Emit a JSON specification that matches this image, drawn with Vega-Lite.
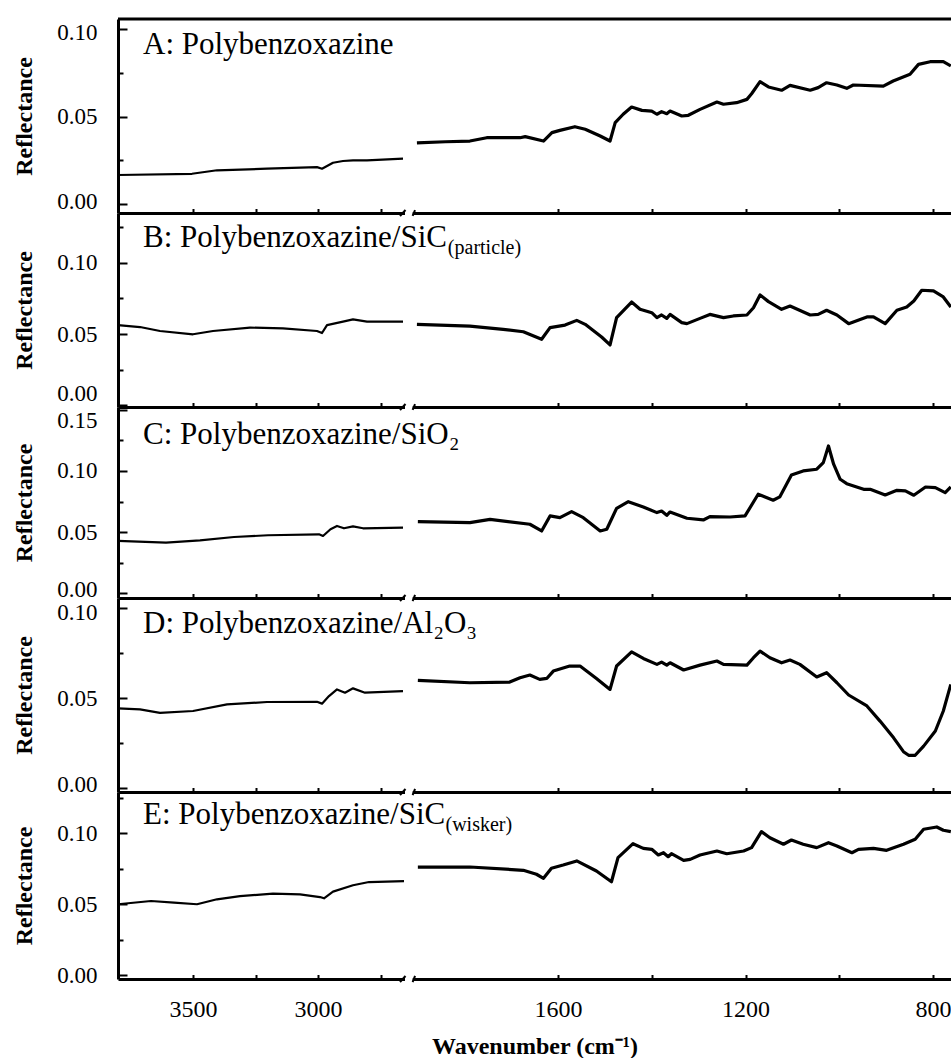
{
"$schema": "https://vega.github.io/schema/vega-lite/v6.json",
"padding": {"left": 12, "top": 17, "right": 0, "bottom": 2},
"spacing": 0,
"bounds": "flush",
"config": {
  "view": {"stroke": null},
  "axis": {"domainColor": "black", "domainWidth": 3, "tickColor": "black", "tickWidth": 2, "labelColor": "black", "titleColor": "black", "grid": false, "labelFont": "Liberation Serif", "titleFont": "Liberation Serif"},
  "text": {"font": "Liberation Serif", "color": "black"}
},
"datasets": {
  "A": [
    {"w":3800,"r":0.0166,"s":"L"},{"w":3504,"r":0.0173,"s":"L"},{"w":3404,"r":0.0193,"s":"L"},{"w":3204,"r":0.0202,"s":"L"},{"w":3004,"r":0.0211,"s":"L"},{"w":2984,"r":0.0202,"s":"L"},{"w":2940,"r":0.0236,"s":"L"},{"w":2900,"r":0.0246,"s":"L"},{"w":2860,"r":0.025,"s":"L"},{"w":2804,"r":0.025,"s":"L"},{"w":2660,"r":0.0259,"s":"L"},
    {"w":1901,"r":0.035,"s":"R"},{"w":1840,"r":0.0356,"s":"R"},{"w":1788,"r":0.036,"s":"R"},{"w":1752,"r":0.0379,"s":"R"},{"w":1681,"r":0.0379,"s":"R"},{"w":1670,"r":0.0385,"s":"R"},{"w":1631,"r":0.036,"s":"R"},{"w":1613,"r":0.0408,"s":"R"},{"w":1596,"r":0.0421,"s":"R"},{"w":1564,"r":0.0442,"s":"R"},{"w":1542,"r":0.0427,"s":"R"},{"w":1510,"r":0.0389,"s":"R"},{"w":1489,"r":0.036,"s":"R"},{"w":1478,"r":0.0465,"s":"R"},{"w":1461,"r":0.0513,"s":"R"},{"w":1443,"r":0.0554,"s":"R"},{"w":1421,"r":0.0535,"s":"R"},{"w":1400,"r":0.0531,"s":"R"},{"w":1389,"r":0.0513,"s":"R"},{"w":1379,"r":0.0528,"s":"R"},{"w":1368,"r":0.0516,"s":"R"},{"w":1361,"r":0.0531,"s":"R"},{"w":1336,"r":0.0503,"s":"R"},{"w":1322,"r":0.0507,"s":"R"},{"w":1297,"r":0.0541,"s":"R"},{"w":1261,"r":0.0583,"s":"R"},{"w":1247,"r":0.057,"s":"R"},{"w":1219,"r":0.0579,"s":"R"},{"w":1197,"r":0.0598,"s":"R"},{"w":1187,"r":0.063,"s":"R"},{"w":1169,"r":0.0699,"s":"R"},{"w":1151,"r":0.0669,"s":"R"},{"w":1123,"r":0.065,"s":"R"},{"w":1105,"r":0.0678,"s":"R"},{"w":1062,"r":0.065,"s":"R"},{"w":1045,"r":0.0665,"s":"R"},{"w":1027,"r":0.0693,"s":"R"},{"w":1005,"r":0.068,"s":"R"},{"w":984,"r":0.0661,"s":"R"},{"w":970,"r":0.068,"s":"R"},{"w":906,"r":0.0674,"s":"R"},{"w":885,"r":0.0703,"s":"R"},{"w":849,"r":0.0741,"s":"R"},{"w":831,"r":0.0798,"s":"R"},{"w":806,"r":0.0813,"s":"R"},{"w":778,"r":0.0813,"s":"R"},{"w":762,"r":0.0789,"s":"R"}
  ],
  "B": [
    {"w":3800,"r":0.0563,"s":"L"},{"w":3712,"r":0.0549,"s":"L"},{"w":3632,"r":0.0521,"s":"L"},{"w":3500,"r":0.0498,"s":"L"},{"w":3420,"r":0.0521,"s":"L"},{"w":3272,"r":0.0545,"s":"L"},{"w":3140,"r":0.054,"s":"L"},{"w":3004,"r":0.0521,"s":"L"},{"w":2984,"r":0.0507,"s":"L"},{"w":2964,"r":0.0563,"s":"L"},{"w":2900,"r":0.0587,"s":"L"},{"w":2860,"r":0.0603,"s":"L"},{"w":2804,"r":0.0587,"s":"L"},{"w":2660,"r":0.0587,"s":"L"},
    {"w":1901,"r":0.0568,"s":"R"},{"w":1788,"r":0.0556,"s":"R"},{"w":1717,"r":0.0533,"s":"R"},{"w":1674,"r":0.0516,"s":"R"},{"w":1635,"r":0.0463,"s":"R"},{"w":1617,"r":0.0545,"s":"R"},{"w":1585,"r":0.0563,"s":"R"},{"w":1560,"r":0.0596,"s":"R"},{"w":1542,"r":0.0568,"s":"R"},{"w":1507,"r":0.0479,"s":"R"},{"w":1489,"r":0.0423,"s":"R"},{"w":1475,"r":0.0615,"s":"R"},{"w":1443,"r":0.0725,"s":"R"},{"w":1425,"r":0.0674,"s":"R"},{"w":1400,"r":0.065,"s":"R"},{"w":1389,"r":0.0615,"s":"R"},{"w":1379,"r":0.0634,"s":"R"},{"w":1368,"r":0.061,"s":"R"},{"w":1361,"r":0.0638,"s":"R"},{"w":1336,"r":0.058,"s":"R"},{"w":1325,"r":0.0573,"s":"R"},{"w":1297,"r":0.061,"s":"R"},{"w":1276,"r":0.0638,"s":"R"},{"w":1247,"r":0.0615,"s":"R"},{"w":1226,"r":0.0627,"s":"R"},{"w":1197,"r":0.0634,"s":"R"},{"w":1183,"r":0.0685,"s":"R"},{"w":1169,"r":0.0775,"s":"R"},{"w":1151,"r":0.0728,"s":"R"},{"w":1123,"r":0.0674,"s":"R"},{"w":1105,"r":0.0697,"s":"R"},{"w":1062,"r":0.0634,"s":"R"},{"w":1045,"r":0.0638,"s":"R"},{"w":1027,"r":0.0667,"s":"R"},{"w":1005,"r":0.0634,"s":"R"},{"w":980,"r":0.0573,"s":"R"},{"w":941,"r":0.062,"s":"R"},{"w":927,"r":0.062,"s":"R"},{"w":902,"r":0.0573,"s":"R"},{"w":877,"r":0.0667,"s":"R"},{"w":856,"r":0.069,"s":"R"},{"w":841,"r":0.0732,"s":"R"},{"w":824,"r":0.0808,"s":"R"},{"w":799,"r":0.0803,"s":"R"},{"w":778,"r":0.0761,"s":"R"},{"w":762,"r":0.069,"s":"R"}
  ],
  "C": [
    {"w":3800,"r":0.0429,"s":"L"},{"w":3608,"r":0.0415,"s":"L"},{"w":3472,"r":0.0434,"s":"L"},{"w":3336,"r":0.0461,"s":"L"},{"w":3200,"r":0.0475,"s":"L"},{"w":2996,"r":0.0483,"s":"L"},{"w":2980,"r":0.0469,"s":"L"},{"w":2950,"r":0.0524,"s":"L"},{"w":2924,"r":0.0551,"s":"L"},{"w":2896,"r":0.0532,"s":"L"},{"w":2860,"r":0.0548,"s":"L"},{"w":2820,"r":0.0532,"s":"L"},{"w":2660,"r":0.0537,"s":"L"},
    {"w":1899,"r":0.0586,"s":"R"},{"w":1788,"r":0.0578,"s":"R"},{"w":1745,"r":0.0605,"s":"R"},{"w":1660,"r":0.0565,"s":"R"},{"w":1635,"r":0.051,"s":"R"},{"w":1617,"r":0.0633,"s":"R"},{"w":1596,"r":0.0619,"s":"R"},{"w":1571,"r":0.0668,"s":"R"},{"w":1546,"r":0.0619,"s":"R"},{"w":1510,"r":0.051,"s":"R"},{"w":1496,"r":0.0524,"s":"R"},{"w":1475,"r":0.0695,"s":"R"},{"w":1450,"r":0.0749,"s":"R"},{"w":1418,"r":0.0706,"s":"R"},{"w":1389,"r":0.066,"s":"R"},{"w":1379,"r":0.0673,"s":"R"},{"w":1368,"r":0.0638,"s":"R"},{"w":1361,"r":0.0665,"s":"R"},{"w":1325,"r":0.0614,"s":"R"},{"w":1290,"r":0.06,"s":"R"},{"w":1276,"r":0.0627,"s":"R"},{"w":1233,"r":0.0624,"s":"R"},{"w":1201,"r":0.0633,"s":"R"},{"w":1173,"r":0.081,"s":"R"},{"w":1141,"r":0.0761,"s":"R"},{"w":1127,"r":0.0788,"s":"R"},{"w":1102,"r":0.0967,"s":"R"},{"w":1077,"r":0.1,"s":"R"},{"w":1048,"r":0.1014,"s":"R"},{"w":1034,"r":0.1068,"s":"R"},{"w":1023,"r":0.1204,"s":"R"},{"w":1012,"r":0.1055,"s":"R"},{"w":998,"r":0.0932,"s":"R"},{"w":984,"r":0.0896,"s":"R"},{"w":948,"r":0.085,"s":"R"},{"w":934,"r":0.085,"s":"R"},{"w":902,"r":0.0804,"s":"R"},{"w":877,"r":0.0842,"s":"R"},{"w":859,"r":0.0837,"s":"R"},{"w":841,"r":0.0802,"s":"R"},{"w":816,"r":0.0869,"s":"R"},{"w":795,"r":0.0864,"s":"R"},{"w":774,"r":0.0823,"s":"R"},{"w":762,"r":0.0869,"s":"R"}
  ],
  "D": [
    {"w":3800,"r":0.0443,"s":"L"},{"w":3712,"r":0.0437,"s":"L"},{"w":3632,"r":0.0418,"s":"L"},{"w":3500,"r":0.0428,"s":"L"},{"w":3364,"r":0.0465,"s":"L"},{"w":3204,"r":0.0478,"s":"L"},{"w":3004,"r":0.0479,"s":"L"},{"w":2984,"r":0.0469,"s":"L"},{"w":2956,"r":0.0511,"s":"L"},{"w":2924,"r":0.0548,"s":"L"},{"w":2892,"r":0.053,"s":"L"},{"w":2860,"r":0.0554,"s":"L"},{"w":2812,"r":0.053,"s":"L"},{"w":2660,"r":0.0539,"s":"L"},
    {"w":1899,"r":0.0598,"s":"R"},{"w":1788,"r":0.0585,"s":"R"},{"w":1703,"r":0.0589,"s":"R"},{"w":1681,"r":0.0613,"s":"R"},{"w":1660,"r":0.0628,"s":"R"},{"w":1639,"r":0.0604,"s":"R"},{"w":1624,"r":0.0609,"s":"R"},{"w":1610,"r":0.065,"s":"R"},{"w":1575,"r":0.0678,"s":"R"},{"w":1553,"r":0.0678,"s":"R"},{"w":1518,"r":0.0609,"s":"R"},{"w":1489,"r":0.0548,"s":"R"},{"w":1475,"r":0.0678,"s":"R"},{"w":1443,"r":0.0757,"s":"R"},{"w":1418,"r":0.072,"s":"R"},{"w":1389,"r":0.0687,"s":"R"},{"w":1379,"r":0.07,"s":"R"},{"w":1368,"r":0.0683,"s":"R"},{"w":1361,"r":0.0696,"s":"R"},{"w":1332,"r":0.0656,"s":"R"},{"w":1297,"r":0.0683,"s":"R"},{"w":1261,"r":0.0706,"s":"R"},{"w":1247,"r":0.0687,"s":"R"},{"w":1197,"r":0.0683,"s":"R"},{"w":1183,"r":0.0724,"s":"R"},{"w":1169,"r":0.0761,"s":"R"},{"w":1148,"r":0.0724,"s":"R"},{"w":1123,"r":0.0696,"s":"R"},{"w":1105,"r":0.0711,"s":"R"},{"w":1084,"r":0.0687,"s":"R"},{"w":1048,"r":0.0617,"s":"R"},{"w":1027,"r":0.0641,"s":"R"},{"w":1005,"r":0.0585,"s":"R"},{"w":980,"r":0.0517,"s":"R"},{"w":941,"r":0.0456,"s":"R"},{"w":913,"r":0.0372,"s":"R"},{"w":884,"r":0.0279,"s":"R"},{"w":863,"r":0.0202,"s":"R"},{"w":852,"r":0.0182,"s":"R"},{"w":838,"r":0.0182,"s":"R"},{"w":820,"r":0.0233,"s":"R"},{"w":795,"r":0.0317,"s":"R"},{"w":778,"r":0.0428,"s":"R"},{"w":762,"r":0.0576,"s":"R"}
  ],
  "E": [
    {"w":3800,"r":0.05,"s":"L"},{"w":3668,"r":0.0523,"s":"L"},{"w":3576,"r":0.0511,"s":"L"},{"w":3484,"r":0.05,"s":"L"},{"w":3404,"r":0.0535,"s":"L"},{"w":3312,"r":0.0558,"s":"L"},{"w":3180,"r":0.0575,"s":"L"},{"w":3072,"r":0.057,"s":"L"},{"w":2992,"r":0.0551,"s":"L"},{"w":2976,"r":0.0542,"s":"L"},{"w":2940,"r":0.0589,"s":"L"},{"w":2860,"r":0.0634,"s":"L"},{"w":2796,"r":0.0657,"s":"L"},{"w":2656,"r":0.0664,"s":"L"},
    {"w":1899,"r":0.0763,"s":"R"},{"w":1788,"r":0.0763,"s":"R"},{"w":1674,"r":0.074,"s":"R"},{"w":1646,"r":0.0712,"s":"R"},{"w":1631,"r":0.0683,"s":"R"},{"w":1614,"r":0.0754,"s":"R"},{"w":1589,"r":0.0777,"s":"R"},{"w":1560,"r":0.0806,"s":"R"},{"w":1518,"r":0.0735,"s":"R"},{"w":1486,"r":0.0659,"s":"R"},{"w":1472,"r":0.0829,"s":"R"},{"w":1440,"r":0.0928,"s":"R"},{"w":1418,"r":0.0895,"s":"R"},{"w":1400,"r":0.0888,"s":"R"},{"w":1386,"r":0.0848,"s":"R"},{"w":1375,"r":0.0864,"s":"R"},{"w":1365,"r":0.0836,"s":"R"},{"w":1358,"r":0.0857,"s":"R"},{"w":1332,"r":0.081,"s":"R"},{"w":1318,"r":0.0817,"s":"R"},{"w":1297,"r":0.0848,"s":"R"},{"w":1261,"r":0.0876,"s":"R"},{"w":1240,"r":0.0857,"s":"R"},{"w":1204,"r":0.0876,"s":"R"},{"w":1187,"r":0.09,"s":"R"},{"w":1166,"r":0.1013,"s":"R"},{"w":1148,"r":0.097,"s":"R"},{"w":1119,"r":0.0924,"s":"R"},{"w":1102,"r":0.0954,"s":"R"},{"w":1077,"r":0.0924,"s":"R"},{"w":1048,"r":0.09,"s":"R"},{"w":1023,"r":0.0935,"s":"R"},{"w":1005,"r":0.0912,"s":"R"},{"w":973,"r":0.0864,"s":"R"},{"w":959,"r":0.0888,"s":"R"},{"w":927,"r":0.0895,"s":"R"},{"w":899,"r":0.0881,"s":"R"},{"w":863,"r":0.0924,"s":"R"},{"w":838,"r":0.0959,"s":"R"},{"w":820,"r":0.103,"s":"R"},{"w":792,"r":0.1046,"s":"R"},{"w":778,"r":0.1023,"s":"R"},{"w":762,"r":0.1013,"s":"R"}
  ]
},
"vconcat": [
{
  "width": 833, "height": 194,
  "resolve": {"axis": {"x": "independent", "y": "independent"}},
  "layer": [
    {"data": {"name": "A"}, "mark": {"type": "line", "color": "black", "strokeJoin": "round"},
     "encoding": {
       "x": {"field": "w", "type": "quantitative", "scale": {"type": "linear", "domain": [3800, 2650, 1910, 761.6], "range": [0, 287.5, 294.7, 833], "nice": false, "zero": false},
             "axis": {"orient": "bottom", "values": [3500, 3250, 3000, 2750, 1600, 1400, 1200, 1000, 800], "labels": false, "tickSize": -4.5, "title": null}},
       "y": {"field": "r", "type": "quantitative", "scale": {"domain": [-0.0051, 0.1057], "nice": false, "zero": false},
             "axis": {"orient": "left", "values": [0, 0.025, 0.05, 0.075, 0.1], "format": ".2f", "labelExpr": "abs(datum.value*20-round(datum.value*20))<0.01 ? datum.label : ''", "tickSize": {"condition": {"test": "abs(datum.value*20-round(datum.value*20))<0.01", "value": -9}, "value": -5}, "labelOffset": {"condition": [{"test": "datum.value > 0.09", "value": 4}, {"test": "datum.value < 0.01", "value": -3}], "value": 0}, "labelPadding": 30, "labelFontSize": 23, "labelFlush": false, "labelOverlap": false, "title": "Reflectance", "titleFontSize": 24, "titleFontWeight": "bold", "titlePadding": 20}},
       "strokeWidth": {"field": "s", "type": "nominal", "scale": {"domain": ["L", "R"], "range": [2.2, 3.2]}, "legend": null}}},
    {"data": {"values": [{}]}, "mark": {"type": "rect", "color": "white"},
     "encoding": {"x": {"datum": 2652, "type": "quantitative", "axis": null}, "x2": {"datum": 1912},
                  "y": {"datum": -0.00624, "type": "quantitative", "axis": null}, "y2": {"datum": -0.00396}}},
    {"data": {"values": [{}]}, "mark": {"type": "rule", "color": "black", "strokeWidth": 2},
     "encoding": {"x": {"datum": 2672, "type": "quantitative", "axis": null}, "x2": {"datum": 2648},
                  "y": {"datum": -0.00681, "type": "quantitative", "axis": null}, "y2": {"datum": -0.00339}}},
    {"data": {"values": [{}]}, "mark": {"type": "rule", "color": "black", "strokeWidth": 2},
     "encoding": {"x": {"datum": 1918, "type": "quantitative", "axis": null}, "x2": {"datum": 1905},
                  "y": {"datum": -0.00681, "type": "quantitative", "axis": null}, "y2": {"datum": -0.00339}}},
    {"data": {"values": [{}]}, "mark": {"type": "rule", "color": "black", "strokeWidth": 3},
     "encoding": {"x": {"datum": 3800, "type": "quantitative", "axis": null}, "x2": {"datum": 761.6},
                  "y": {"datum": 0.1057, "type": "quantitative", "axis": null}}},
    {"data": {"values": [{"t": "A: Polybenzoxazine"}]}, "mark": {"type": "text", "align": "left", "baseline": "alphabetic", "fontSize": 31},
     "encoding": {"x": {"datum": 3700, "type": "quantitative", "axis": null},
                  "y": {"datum": 0.0857, "type": "quantitative", "axis": null}, "text": {"field": "t"}}}
  ]
},
{
  "width": 833, "height": 194,
  "resolve": {"axis": {"x": "independent", "y": "independent"}},
  "layer": [
    {"data": {"name": "B"}, "mark": {"type": "line", "color": "black", "strokeJoin": "round"},
     "encoding": {
       "x": {"field": "w", "type": "quantitative", "scale": {"type": "linear", "domain": [3800, 2650, 1910, 761.6], "range": [0, 287.5, 294.7, 833], "nice": false, "zero": false},
             "axis": {"orient": "bottom", "values": [3500, 3250, 3000, 2750, 1600, 1400, 1200, 1000, 800], "labels": false, "tickSize": -4.5, "title": null}},
       "y": {"field": "r", "type": "quantitative", "scale": {"domain": [-0.0014, 0.1352], "nice": false, "zero": false},
             "axis": {"orient": "left", "values": [0, 0.025, 0.05, 0.075, 0.1, 0.125], "format": ".2f", "labelExpr": "abs(datum.value*20-round(datum.value*20))<0.01 ? datum.label : ''", "tickSize": {"condition": {"test": "abs(datum.value*20-round(datum.value*20))<0.01", "value": -9}, "value": -5}, "labelPadding": 30, "labelFontSize": 23, "labelFlush": 5, "labelOverlap": false, "title": "Reflectance", "titleFontSize": 24, "titleFontWeight": "bold", "titlePadding": 20}},
       "strokeWidth": {"field": "s", "type": "nominal", "scale": {"domain": ["L", "R"], "range": [2.2, 3.2]}, "legend": null}}},
    {"data": {"values": [{}]}, "mark": {"type": "rect", "color": "white"},
     "encoding": {"x": {"datum": 2652, "type": "quantitative", "axis": null}, "x2": {"datum": 1912},
                  "y": {"datum": -0.00281, "type": "quantitative", "axis": null}, "y2": {"datum": 0.00001}}},
    {"data": {"values": [{}]}, "mark": {"type": "rule", "color": "black", "strokeWidth": 2},
     "encoding": {"x": {"datum": 2672, "type": "quantitative", "axis": null}, "x2": {"datum": 2648},
                  "y": {"datum": -0.00351, "type": "quantitative", "axis": null}, "y2": {"datum": 0.00071}}},
    {"data": {"values": [{}]}, "mark": {"type": "rule", "color": "black", "strokeWidth": 2},
     "encoding": {"x": {"datum": 1918, "type": "quantitative", "axis": null}, "x2": {"datum": 1905},
                  "y": {"datum": -0.00351, "type": "quantitative", "axis": null}, "y2": {"datum": 0.00071}}},
    {"data": {"values": [{"t": "B: Polybenzoxazine/SiC"}]}, "mark": {"type": "text", "align": "left", "baseline": "alphabetic", "fontSize": 31},
     "encoding": {"x": {"datum": 3700, "type": "quantitative", "axis": null},
                  "y": {"datum": 0.1113, "type": "quantitative", "axis": null}, "text": {"field": "t"}}},
    {"data": {"values": [{"t": "(particle)"}]}, "mark": {"type": "text", "align": "left", "baseline": "alphabetic", "fontSize": 20},
     "encoding": {"x": {"datum": 1835, "type": "quantitative", "axis": null},
                  "y": {"datum": 0.1063, "type": "quantitative", "axis": null}, "text": {"field": "t"}}}
  ]
},
{
  "width": 833, "height": 191,
  "resolve": {"axis": {"x": "independent", "y": "independent"}},
  "layer": [
    {"data": {"name": "C"}, "mark": {"type": "line", "color": "black", "strokeJoin": "round"},
     "encoding": {
       "x": {"field": "w", "type": "quantitative", "scale": {"type": "linear", "domain": [3800, 2650, 1910, 761.6], "range": [0, 287.5, 294.7, 833], "nice": false, "zero": false},
             "axis": {"orient": "bottom", "values": [3500, 3250, 3000, 2750, 1600, 1400, 1200, 1000, 800], "labels": false, "tickSize": -4.5, "title": null}},
       "y": {"field": "r", "type": "quantitative", "scale": {"domain": [-0.0037, 0.1522], "nice": false, "zero": false},
             "axis": {"orient": "left", "values": [0, 0.025, 0.05, 0.075, 0.1, 0.125, 0.15], "format": ".2f", "labelExpr": "abs(datum.value*20-round(datum.value*20))<0.01 ? datum.label : ''", "tickSize": {"condition": {"test": "abs(datum.value*20-round(datum.value*20))<0.01", "value": -9}, "value": -5}, "labelOffset": {"condition": {"test": "datum.value < 0.01", "value": -4}, "value": 0}, "labelPadding": 30, "labelFontSize": 23, "labelFlush": 4, "labelOverlap": false, "title": "Reflectance", "titleFontSize": 24, "titleFontWeight": "bold", "titlePadding": 20}},
       "strokeWidth": {"field": "s", "type": "nominal", "scale": {"domain": ["L", "R"], "range": [2.2, 3.2]}, "legend": null}}},
    {"data": {"values": [{}]}, "mark": {"type": "rect", "color": "white"},
     "encoding": {"x": {"datum": 2652, "type": "quantitative", "axis": null}, "x2": {"datum": 1912},
                  "y": {"datum": -0.00533, "type": "quantitative", "axis": null}, "y2": {"datum": -0.00207}}},
    {"data": {"values": [{}]}, "mark": {"type": "rule", "color": "black", "strokeWidth": 2},
     "encoding": {"x": {"datum": 2672, "type": "quantitative", "axis": null}, "x2": {"datum": 2648},
                  "y": {"datum": -0.00615, "type": "quantitative", "axis": null}, "y2": {"datum": -0.00125}}},
    {"data": {"values": [{}]}, "mark": {"type": "rule", "color": "black", "strokeWidth": 2},
     "encoding": {"x": {"datum": 1918, "type": "quantitative", "axis": null}, "x2": {"datum": 1905},
                  "y": {"datum": -0.00615, "type": "quantitative", "axis": null}, "y2": {"datum": -0.00125}}},
    {"data": {"values": [{"t": "C: Polybenzoxazine/SiO₂"}]}, "mark": {"type": "text", "align": "left", "baseline": "alphabetic", "fontSize": 31},
     "encoding": {"x": {"datum": 3700, "type": "quantitative", "axis": null},
                  "y": {"datum": 0.1218, "type": "quantitative", "axis": null}, "text": {"field": "t"}}}
  ]
},
{
  "width": 833, "height": 194,
  "resolve": {"axis": {"x": "independent", "y": "independent"}},
  "layer": [
    {"data": {"name": "D"}, "mark": {"type": "line", "color": "black", "strokeJoin": "round"},
     "encoding": {
       "x": {"field": "w", "type": "quantitative", "scale": {"type": "linear", "domain": [3800, 2650, 1910, 761.6], "range": [0, 287.5, 294.7, 833], "nice": false, "zero": false},
             "axis": {"orient": "bottom", "values": [3500, 3250, 3000, 2750, 1600, 1400, 1200, 1000, 800], "labels": false, "tickSize": -4.5, "title": null}},
       "y": {"field": "r", "type": "quantitative", "scale": {"domain": [-0.0022, 0.1056], "nice": false, "zero": false},
             "axis": {"orient": "left", "values": [0, 0.025, 0.05, 0.075, 0.1], "format": ".2f", "labelExpr": "abs(datum.value*20-round(datum.value*20))<0.01 ? datum.label : ''", "tickSize": {"condition": {"test": "abs(datum.value*20-round(datum.value*20))<0.01", "value": -9}, "value": -5}, "labelOffset": {"condition": [{"test": "datum.value > 0.09", "value": 4}, {"test": "datum.value < 0.01", "value": -4}], "value": 0}, "labelPadding": 30, "labelFontSize": 23, "labelFlush": false, "labelOverlap": false, "title": "Reflectance", "titleFontSize": 24, "titleFontWeight": "bold", "titlePadding": 20}},
       "strokeWidth": {"field": "s", "type": "nominal", "scale": {"domain": ["L", "R"], "range": [2.2, 3.2]}, "legend": null}}},
    {"data": {"values": [{}]}, "mark": {"type": "rect", "color": "white"},
     "encoding": {"x": {"datum": 2652, "type": "quantitative", "axis": null}, "x2": {"datum": 1912},
                  "y": {"datum": -0.00331, "type": "quantitative", "axis": null}, "y2": {"datum": -0.00109}}},
    {"data": {"values": [{}]}, "mark": {"type": "rule", "color": "black", "strokeWidth": 2},
     "encoding": {"x": {"datum": 2672, "type": "quantitative", "axis": null}, "x2": {"datum": 2648},
                  "y": {"datum": -0.00387, "type": "quantitative", "axis": null}, "y2": {"datum": -0.00053}}},
    {"data": {"values": [{}]}, "mark": {"type": "rule", "color": "black", "strokeWidth": 2},
     "encoding": {"x": {"datum": 1918, "type": "quantitative", "axis": null}, "x2": {"datum": 1905},
                  "y": {"datum": -0.00387, "type": "quantitative", "axis": null}, "y2": {"datum": -0.00053}}},
    {"data": {"values": [{"t": "D: Polybenzoxazine/Al₂O₃"}]}, "mark": {"type": "text", "align": "left", "baseline": "alphabetic", "fontSize": 31},
     "encoding": {"x": {"datum": 3700, "type": "quantitative", "axis": null},
                  "y": {"datum": 0.0863, "type": "quantitative", "axis": null}, "text": {"field": "t"}}}
  ]
},
{
  "width": 833, "height": 187,
  "resolve": {"axis": {"x": "independent", "y": "independent"}},
  "layer": [
    {"data": {"name": "E"}, "mark": {"type": "line", "color": "black", "strokeJoin": "round"},
     "encoding": {
       "x": {"field": "w", "type": "quantitative", "scale": {"type": "linear", "domain": [3800, 2650, 1910, 761.6], "range": [0, 287.5, 294.7, 833], "nice": false, "zero": false},
             "axis": {"orient": "bottom", "values": [3500, 3250, 3000, 2750, 1600, 1400, 1200, 1000, 800], "format": "d", "labelExpr": "indexof([3500,3000,1600,1200,800], datum.value) >= 0 ? datum.label : ''", "tickSize": -4.5, "labelPadding": 23, "labelFontSize": 24, "labelFlush": false, "labelOverlap": false, "title": "Wavenumber (cm⁻¹)", "titleFontSize": 24, "titleFontWeight": "bold", "titlePadding": 13}},
       "y": {"field": "r", "type": "quantitative", "scale": {"domain": [-0.0028, 0.1293], "nice": false, "zero": false},
             "axis": {"orient": "left", "values": [0, 0.025, 0.05, 0.075, 0.1, 0.125], "format": ".2f", "labelExpr": "abs(datum.value*20-round(datum.value*20))<0.01 ? datum.label : ''", "tickSize": {"condition": {"test": "abs(datum.value*20-round(datum.value*20))<0.01", "value": -9}, "value": -5}, "labelPadding": 30, "labelFontSize": 23, "labelFlush": false, "labelOverlap": false, "title": "Reflectance", "titleFontSize": 24, "titleFontWeight": "bold", "titlePadding": 20}},
       "strokeWidth": {"field": "s", "type": "nominal", "scale": {"domain": ["L", "R"], "range": [2.2, 3.2]}, "legend": null}}},
    {"data": {"values": [{}]}, "mark": {"type": "rect", "color": "white"},
     "encoding": {"x": {"datum": 2652, "type": "quantitative", "axis": null}, "x2": {"datum": 1912},
                  "y": {"datum": -0.00421, "type": "quantitative", "axis": null}, "y2": {"datum": -0.00139}}},
    {"data": {"values": [{}]}, "mark": {"type": "rule", "color": "black", "strokeWidth": 2},
     "encoding": {"x": {"datum": 2672, "type": "quantitative", "axis": null}, "x2": {"datum": 2648},
                  "y": {"datum": -0.00492, "type": "quantitative", "axis": null}, "y2": {"datum": -0.00068}}},
    {"data": {"values": [{}]}, "mark": {"type": "rule", "color": "black", "strokeWidth": 2},
     "encoding": {"x": {"datum": 1918, "type": "quantitative", "axis": null}, "x2": {"datum": 1905},
                  "y": {"datum": -0.00492, "type": "quantitative", "axis": null}, "y2": {"datum": -0.00068}}},
    {"data": {"values": [{"t": "E: Polybenzoxazine/SiC"}]}, "mark": {"type": "text", "align": "left", "baseline": "alphabetic", "fontSize": 31},
     "encoding": {"x": {"datum": 3700, "type": "quantitative", "axis": null},
                  "y": {"datum": 0.1065, "type": "quantitative", "axis": null}, "text": {"field": "t"}}},
    {"data": {"values": [{"t": "(wisker)"}]}, "mark": {"type": "text", "align": "left", "baseline": "alphabetic", "fontSize": 20},
     "encoding": {"x": {"datum": 1840, "type": "quantitative", "axis": null},
                  "y": {"datum": 0.1018, "type": "quantitative", "axis": null}, "text": {"field": "t"}}}
  ]
}
]
}
